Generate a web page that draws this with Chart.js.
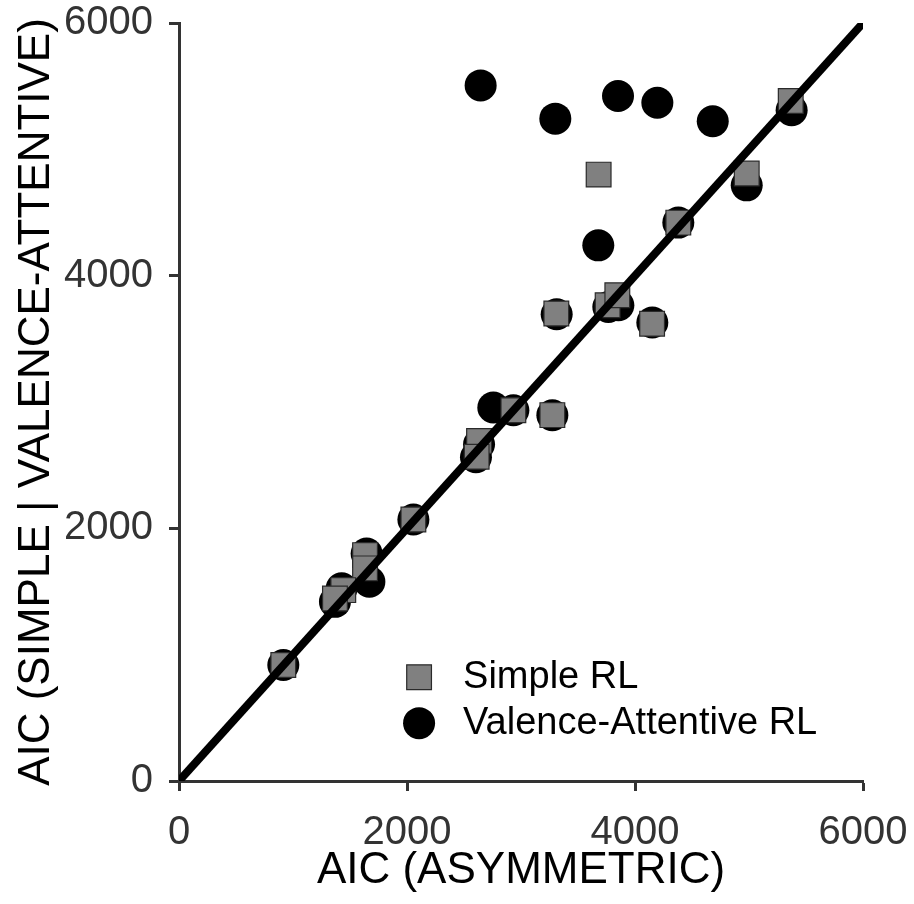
<!DOCTYPE html>
<html>
<head>
<meta charset="utf-8">
<script src="https://cdn.jsdelivr.net/npm/chart.js@4.4.1/dist/chart.umd.min.js"></script>
<style>
html,body{margin:0;padding:0;background:#fff;}
#wrap{width:914px;height:904px;position:relative;}
</style>
</head>
<body>
<div id="wrap"><canvas id="c" width="914" height="904"></canvas></div>
<script>
// Data
const simpleX = [5366, 3681, 4980, 4380, 3310, 3760, 3845, 4150, 2933, 3275, 2632, 2611, 2056, 1632, 1632, 1441, 1368, 915];
const simpleY = [5382, 4800, 4808, 4420, 3700, 3766, 3845, 3620, 2935, 2896, 2692, 2567, 2070, 1788, 1683, 1511, 1445, 918];
const vaX = [2646, 3301, 3851, 4196, 4682, 5374, 4980, 3678, 4380, 3313, 3766, 3854, 4152, 2757, 2933, 3275, 2632, 2605, 2056, 1646, 1670, 1427, 1368, 915];
const vaY = [5506, 5243, 5422, 5369, 5222, 5309, 4715, 4240, 4420, 3695, 3752, 3766, 3629, 2956, 2935, 2896, 2666, 2563, 2070, 1801, 1577, 1525, 1418, 918];
const identityLine = [0, 6000];
const tickValues = [0, 2000, 4000, 6000];
const seriesNames = ['Simple RL', 'Valence-Attentive RL'];
const xTitle = 'AIC (ASYMMETRIC)';
const yTitle = 'AIC (SIMPLE | VALENCE-ATTENTIVE)';

const toPts = (xs, ys) => xs.map((x, i) => ({x: x, y: ys[i]}));
const FONT = '"Liberation Sans", Arial, sans-serif';

const legendPlugin = {
  id: 'insideLegend',
  afterDatasetsDraw(chart) {
    const ctx = chart.ctx;
    const ca = chart.chartArea;
    const ds = chart.data.datasets;
    const items = [ds[1], ds[2]];
    const x0 = ca.left + (ca.right - ca.left) * 0.351;
    const y0 = ca.top + (ca.bottom - ca.top) * 0.863;
    const gap = 46;
    ctx.save();
    items.forEach((d, i) => {
      const y = y0 + i * gap;
      ctx.fillStyle = d.backgroundColor;
      ctx.strokeStyle = d.borderColor;
      ctx.lineWidth = d.borderWidth;
      Chart.helpers.drawPoint(ctx, {pointStyle: d.pointStyle, radius: d.pointRadius, borderWidth: d.borderWidth}, x0, y);
      ctx.fillStyle = '#000';
      ctx.font = '38px ' + FONT;
      ctx.textBaseline = 'middle';
      ctx.textAlign = 'left';
      ctx.fillText(d.label, x0 + 44, y);
    });
    ctx.restore();
  }
};

new Chart(document.getElementById('c'), {
  type: 'scatter',
  data: {
    datasets: [
      {
        type: 'line',
        label: 'identity',
        data: toPts(identityLine, identityLine),
        borderColor: '#000',
        borderWidth: 8,
        pointRadius: 0,
        fill: false,
        order: 0
      },
      {
        label: seriesNames[0],
        data: toPts(simpleX, simpleY),
        pointStyle: 'rect',
        pointRadius: 17.5,
        backgroundColor: '#808080',
        borderColor: '#2a2a2a',
        borderWidth: 1.2,
        order: 1
      },
      {
        label: seriesNames[1],
        data: toPts(vaX, vaY),
        pointStyle: 'circle',
        pointRadius: 16,
        backgroundColor: '#000',
        borderColor: '#000',
        borderWidth: 0,
        order: 2
      }
    ]
  },
  options: {
    responsive: false,
    animation: false,
    layout: {padding: {left: 0, top: 23, right: 51, bottom: 0}},
    plugins: {legend: {display: false}, tooltip: {enabled: false}},
    scales: {
      x: {
        type: 'linear',
        min: 0, max: 6000,
        afterBuildTicks: (s) => { s.ticks = tickValues.map(v => ({value: v})); },
        afterFit: (s) => { s.height = 123; s.paddingLeft = 0; s.paddingRight = 0; },
        border: {display: true, width: 3, color: '#333'},
        grid: {display: true, drawOnChartArea: false, drawTicks: true, tickLength: 10, tickWidth: 3, tickColor: '#333'},
        ticks: {color: '#333', font: {family: FONT, size: 40}, padding: 18, maxRotation: 0, callback: (v) => String(v)},
        title: {display: true, text: xTitle, color: '#000', font: {family: FONT, size: 44}, padding: {top: 0, bottom: 7}}
      },
      y: {
        type: 'linear',
        min: 0, max: 6000,
        afterBuildTicks: (s) => { s.ticks = tickValues.map(v => ({value: v})); },
        afterFit: (s) => { s.width = 179; s.paddingTop = 0; s.paddingBottom = 0; },
        border: {display: true, width: 3, color: '#333'},
        grid: {display: true, drawOnChartArea: false, drawTicks: true, tickLength: 10, tickWidth: 3, tickColor: '#333'},
        ticks: {color: '#333', font: {family: FONT, size: 40}, padding: 16, callback: (v) => String(v)},
        title: {display: true, text: yTitle, color: '#000', font: {family: FONT, size: 44}, padding: {top: 10, bottom: 0}}
      }
    }
  },
  plugins: [legendPlugin]
});
</script>
</body>
</html>
